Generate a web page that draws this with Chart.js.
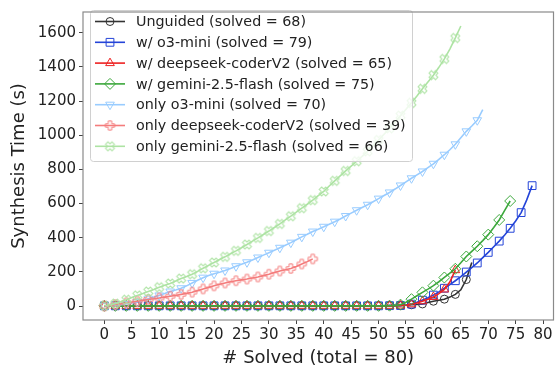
<!DOCTYPE html>
<html>
<head>
<meta charset="utf-8">
<script src="https://cdn.jsdelivr.net/npm/chart.js@4.4.1/dist/chart.umd.min.js"></script>
<style>
  html, body { margin: 0; padding: 0; background: #fff; }
</style>
</head>
<body>
<canvas id="synthChart" width="560" height="369"></canvas>
<script>
// values per "# solved" index
const unguided = [
  1, 1, 1, 1, 1, 1, 1, 1, 1, 1,
  1, 1, 1, 1, 1, 1, 1, 1, 1, 1,
  1, 1, 1, 1, 1, 1, 1, 1, 1, 1,
  1, 1, 1, 1, 1, 1, 1, 1, 1, 1,
  1, 1, 1, 1, 1, 1, 1, 1, 1, 1,
  1, 1, 2, 2, 2, 4, 7, 9, 12, 20,
  28, 34, 40, 52, 68, 95, 155, 255
];
const withO3 = [
  1, 1, 1, 1, 1, 1, 1, 1, 1, 1,
  1, 1, 1, 1, 1, 1, 1, 1, 1, 1,
  1, 1, 1, 1, 1, 1, 1, 1, 1, 1,
  1, 1, 1, 1, 1, 1, 1, 1, 1, 1,
  1, 1, 1, 1, 1, 1, 1, 1, 1, 1,
  1, 1, 2, 2, 3, 6, 11, 22, 34, 48,
  64, 83, 104, 125, 148, 172, 199, 225, 252, 283,
  314, 347, 380, 416, 455, 498, 547, 620, 705
];
const withDeepseek = [
  1, 1, 1, 1, 1, 1, 1, 1, 1, 1,
  1, 1, 1, 1, 1, 1, 1, 1, 1, 1,
  1, 1, 1, 1, 1, 1, 1, 1, 1, 1,
  1, 1, 1, 1, 1, 1, 1, 1, 1, 1,
  1, 1, 1, 1, 1, 1, 1, 1, 1, 1,
  1, 1, 1, 2, 3, 5, 10, 18, 28, 40,
  53, 72, 97, 140, 210
];
const withGemini = [
  1, 1, 1, 1, 1, 1, 1, 1, 1, 1,
  1, 1, 1, 1, 1, 1, 1, 1, 1, 1,
  1, 1, 1, 1, 1, 1, 1, 1, 1, 1,
  1, 1, 1, 1, 1, 1, 1, 1, 1, 1,
  1, 1, 1, 1, 1, 1, 1, 1, 1, 1,
  1, 1, 2, 3, 8, 22, 40, 60, 80, 99,
  119, 142, 167, 192, 218, 253, 290, 320, 350, 383,
  418, 460, 504, 560, 615
];
const onlyO3 = [
  0, 2, 5, 8, 12, 18, 24, 33, 43, 52,
  62, 73, 85, 94, 104, 118, 135, 151, 166, 178,
  189, 198, 208, 220, 233, 245, 256, 270, 284, 298,
  312, 326, 341, 356, 371, 388, 405, 420, 436, 450,
  464, 479, 494, 510, 527, 544, 561, 577, 593, 611,
  629, 647, 665, 685, 706, 727, 748, 768, 788, 810,
  833, 859, 886, 915, 947, 985, 1023, 1054, 1088, 1150
];
const onlyDeepseek = [
  0, 4, 8, 13, 19, 23, 28, 33, 38, 42,
  47, 52, 57, 62, 68, 74, 81, 90, 100, 109,
  118, 127, 135, 142, 148, 153, 158, 164, 170, 178,
  186, 196, 205, 212, 220, 232, 246, 260, 276
];
const onlyGemini = [
  2, 7, 14, 25, 37, 50, 62, 73, 85, 97,
  110, 121, 132, 146, 161, 173, 186, 203, 221, 238,
  255, 272, 288, 306, 323, 341, 360, 380, 399, 419,
  439, 460, 481, 504, 526, 550, 573, 596, 620, 646,
  671, 703, 733, 762, 791, 819, 848, 876, 906, 939,
  972, 1006, 1041, 1077, 1115, 1152, 1190, 1230, 1272, 1312,
  1352, 1398, 1447, 1505, 1570, 1640
];

const labels = [
  'Unguided (solved = 68)',
  'w/ o3-mini (solved = 79)',
  'w/ deepseek-coderV2 (solved = 65)',
  'w/ gemini-2.5-flash (solved = 75)',
  'only o3-mini (solved = 70)',
  'only deepseek-coderV2 (solved = 39)',
  'only gemini-2.5-flash (solved = 66)'
];
const xTicks = [0, 5, 10, 15, 20, 25, 30, 35, 40, 45, 50, 55, 60, 65, 70, 75, 80];
const yTicks = [0, 200, 400, 600, 800, 1000, 1200, 1400, 1600];

const FONT = "'DejaVu Sans', sans-serif";

// outline plus / x markers (matplotlib 'P' and 'X', hollow)
const crossMarker = (color, rot) => {
    const s = 13;
    const c = document.createElement('canvas');
    c.width = s; c.height = s;
    const g = c.getContext('2d');
    g.translate(s / 2, s / 2);
    g.rotate(rot);
    const a = 1.7, b = 4.6;
    g.beginPath();
    g.moveTo(-a, -b); g.lineTo(a, -b); g.lineTo(a, -a); g.lineTo(b, -a);
    g.lineTo(b, a); g.lineTo(a, a); g.lineTo(a, b); g.lineTo(-a, b);
    g.lineTo(-a, a); g.lineTo(-b, a); g.lineTo(-b, -a); g.lineTo(-a, -a);
    g.closePath();
    g.strokeStyle = color;
    g.lineWidth = 1;
    g.stroke();
    return c;
};

const styles = [
    { values: unguided, color: '#333333', marker: 'circle', rot: 0, r: 4 },
    { values: withO3, color: '#2444d8', marker: 'rect', rot: 0, r: 5.5 },
    { values: withDeepseek, color: '#ee2222', marker: 'triangle', rot: 0, r: 5 },
    { values: withGemini, color: '#3ca83c', marker: 'rectRot', rot: 0, r: 5.5 },
    { values: onlyO3, color: '#99ccff', marker: 'triangle', rot: 180, r: 5 },
    { values: onlyDeepseek, color: '#f47c7c', marker: crossMarker('#f47c7c', 0), rot: 0, r: 5 },
    { values: onlyGemini, color: '#ade3a3', marker: crossMarker('#ade3a3', Math.PI / 4), rot: 0, r: 5 }
];

const datasets = styles.map((s, i) => ({
    label: labels[i],
    data: s.values.map((v, k) => ({ x: k, y: v })),
    borderColor: s.color,
    backgroundColor: s.color,
    borderWidth: 1.6,
    pointStyle: s.marker,
    pointRotation: s.rot,
    pointRadius: ctx => (ctx.dataIndex % 2 === 0 ? s.r : 0),
    pointHoverRadius: 0,
    pointBorderColor: s.color,
    pointBackgroundColor: 'rgba(0,0,0,0)',
    pointBorderWidth: 1,
    tension: 0,
    fill: false,
    order: -i
}));

const legendInside = {
    id: 'legendInside',
    afterDatasetsDraw(chart) {
        const ctx = chart.ctx;
        const x0 = 90, y0 = 10, w = 322, h = 151;
        ctx.save();
        ctx.beginPath();
        ctx.roundRect(x0 + 0.5, y0 + 0.5, w, h, 3);
        ctx.fillStyle = 'rgba(255,255,255,0.8)';
        ctx.fill();
        ctx.strokeStyle = '#d0d0d0';
        ctx.lineWidth = 1;
        ctx.stroke();
        ctx.font = '14.3px ' + FONT;
        ctx.textBaseline = 'middle';
        styles.forEach((s, i) => {
            const y = 21.5 + i * 20.8;
            ctx.strokeStyle = s.color;
            ctx.lineWidth = 1.6;
            ctx.beginPath();
            ctx.moveTo(95, y);
            ctx.lineTo(125, y);
            ctx.stroke();
            ctx.fillStyle = 'rgba(0,0,0,0)';
            ctx.lineWidth = 1;
            Chart.helpers.drawPoint(ctx, { pointStyle: s.marker, rotation: s.rot, radius: s.r, borderWidth: 1 }, 110, y);
            ctx.fillStyle = '#222';
            ctx.fillText(labels[i], 136, y + 1);
        });
        ctx.restore();
    }
};

const frame = {
    id: 'frame',
    afterDraw(chart) {
        const { left, top, right, bottom } = chart.chartArea;
        const ctx = chart.ctx;
        ctx.save();
        ctx.strokeStyle = '#8a8a8a';
        ctx.lineWidth = 1.2;
        ctx.strokeRect(left, top, right - left, bottom - top);
        ctx.restore();
    }
};

new Chart(document.getElementById('synthChart'), {
    type: 'line',
    data: { datasets },
    plugins: [legendInside, frame],
    options: {
        responsive: false,
        animation: false,
        devicePixelRatio: 1,
        layout: { padding: { top: 3, right: 3, left: 0, bottom: 0 } },
        plugins: { legend: { display: false }, tooltip: { enabled: false } },
        scales: {
            x: {
                type: 'linear',
                min: -3.9,
                max: 81.9,
                afterBuildTicks: s => { s.ticks = xTicks.map(v => ({ value: v })); },
                afterFit: s => { s.height = 49; },
                ticks: { font: { family: FONT, size: 15 }, color: '#222', maxRotation: 0, autoSkip: false, padding: 2, callback: v => String(v) },
                grid: { drawOnChartArea: false, tickLength: 4, tickColor: '#444' },
                border: { display: false },
                title: { display: true, text: '# Solved (total = 80)', font: { family: FONT, size: 18 }, color: '#222', padding: { top: 1, bottom: 0 } }
            },
            y: {
                type: 'linear',
                min: -82,
                max: 1722,
                afterBuildTicks: s => { s.ticks = yTicks.map(v => ({ value: v })); },
                afterFit: s => { s.width = 83; },
                ticks: { font: { family: FONT, size: 15 }, color: '#222', padding: 3, callback: v => String(v) },
                grid: { drawOnChartArea: false, tickLength: 4, tickColor: '#444' },
                border: { display: false },
                title: { display: true, text: 'Synthesis Time (s)', font: { family: FONT, size: 18 }, color: '#222', padding: { top: 9, bottom: 2 } }
            }
        }
    }
});
</script>
</body>
</html>
